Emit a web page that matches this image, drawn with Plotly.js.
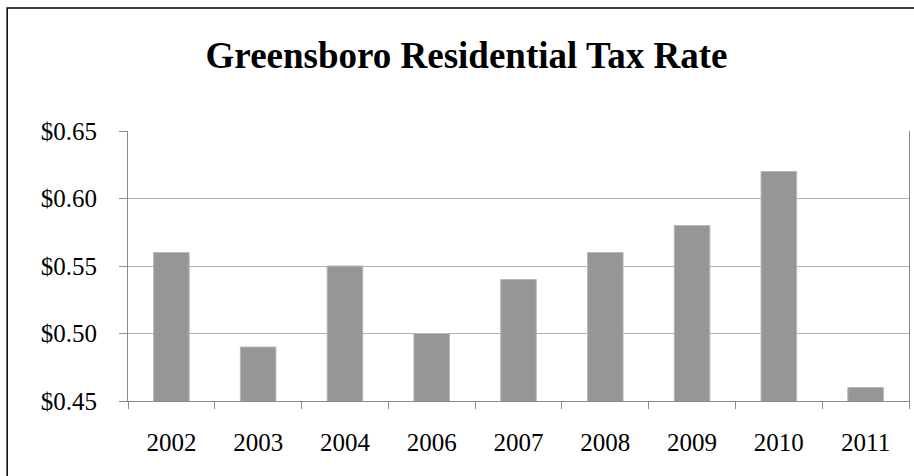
<!DOCTYPE html>
<html>
<head>
<meta charset="utf-8">
<script src="https://cdn.plot.ly/plotly-3.0.1.min.js"></script>
<style>html,body{margin:0;padding:0;background:#fff;}#chart{width:914px;height:476px;}</style>
</head>
<body>
<div id="chart"></div>
<script>
var years = ["2002", "2003", "2004", "2006", "2007", "2008", "2009", "2010", "2011"];
var taxRate = [0.56, 0.49, 0.55, 0.50, 0.54, 0.56, 0.58, 0.62, 0.46];
var yTicks = [0.45, 0.50, 0.55, 0.60, 0.65];
var chartTitle = "Greensboro Residential Tax Rate";

var serif = "'Liberation Serif', 'Times New Roman', serif";

var trace = {
  type: "bar",
  x: years,
  y: taxRate,
  width: 0.41,
  marker: {color: "#969696", line: {color: "#b8b8b8", width: 1}},
  hoverinfo: "x+y"
};

var layout = {
  width: 914,
  height: 476,
  margin: {l: 128, r: 5, t: 131, b: 75},
  paper_bgcolor: "#ffffff",
  plot_bgcolor: "#ffffff",
  showlegend: false,
  title: {
    text: "<b>" + chartTitle + "</b>",
    font: {family: serif, size: 37, color: "#000000"},
    x: 0.5104, xref: "container", xanchor: "center",
    y: 0.885, yref: "container", yanchor: "middle"
  },
  xaxis: {
    type: "category",
    tickson: "boundaries",
    ticks: "outside",
    ticklen: 7,
    tickcolor: "#8c8c8c",
    tickwidth: 1,
    showline: true,
    linecolor: "#8c8c8c",
    linewidth: 1,
    showgrid: false,
    ticklabelstandoff: 19,
    tickfont: {family: serif, size: 25, color: "#000000"}
  },
  yaxis: {
    range: [0.45, 0.65],
    tickvals: yTicks,
    tickformat: "$.2f",
    ticks: "outside",
    ticklen: 8,
    tickcolor: "#8c8c8c",
    showline: true,
    mirror: true,
    linecolor: "#8c8c8c",
    linewidth: 1,
    showgrid: true,
    gridcolor: "#b0b0b0",
    gridwidth: 1,
    zeroline: false,
    ticklabelstandoff: 17,
    tickfont: {family: serif, size: 25, color: "#000000"}
  },
  shapes: [{
    type: "rect",
    xref: "paper", yref: "paper",
    x0: -0.1547, x1: 1.1,
    y0: -0.6, y1: 1.4558,
    line: {color: "#000000", width: 1.5},
    fillcolor: "rgba(0,0,0,0)",
    layer: "below"
  }]
};

Plotly.newPlot("chart", [trace], layout, {displayModeBar: false, staticPlot: true});
</script>
</body>
</html>
